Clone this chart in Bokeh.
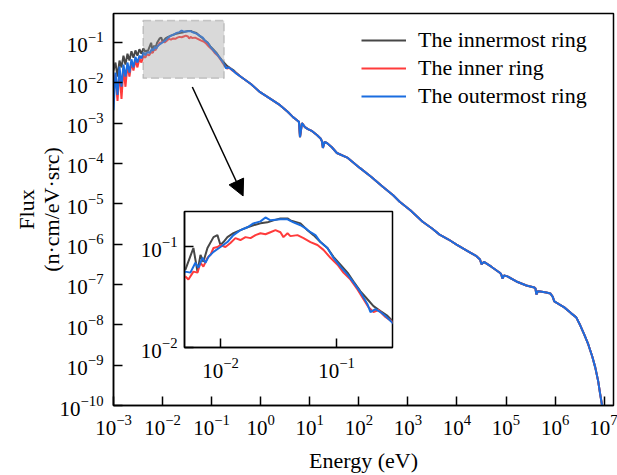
import numpy as np
from bokeh.plotting import figure
from bokeh.models import (ColumnDataSource, FixedTicker, BoxAnnotation, Arrow,
                          NormalHead, GridBox, Range1d)
from bokeh.embed import file_html
from bokeh.resources import INLINE

# ---- values: log10(Energy / eV) and log10(Flux) ----
# low-energy part (1e-3 .. 5e-3 eV), main plot
low_logE = [-3.0, -2.96, -2.918, -2.878, -2.837, -2.797, -2.756, -2.715, -2.675,
            -2.634, -2.593, -2.553, -2.512, -2.472, -2.431, -2.390, -2.350, -2.33]
black_low_logF = [-1.70, -1.50, -1.85, -1.45, -1.62, -1.33, -1.55, -1.28, -1.45,
                  -1.22, -1.38, -1.20, -1.33, -1.17, -1.28, -1.15, -1.24, -1.20]
red_low_logF = [-2.31, -1.80, -2.45, -1.70, -2.40, -1.64, -2.10, -1.56, -1.85,
                -1.50, -1.70, -1.44, -1.62, -1.40, -1.50, -1.33, -1.38, -1.32]
blue_low_logF = [-2.68, -1.75, -2.30, -1.60, -2.10, -1.55, -1.85, -1.50, -1.75,
                 -1.42, -1.62, -1.36, -1.50, -1.33, -1.40, -1.25, -1.32, -1.27]

# thermal peak (0.005 .. 0.3 eV)
black_mid_logE = [-2.302, -2.233, -2.198, -2.172, -2.147, -2.112, -2.060, -2.026, -2.000,
                  -1.974, -1.940, -1.888, -1.828, -1.767, -1.716, -1.655, -1.595, -1.543,
                  -1.483, -1.422, -1.397, -1.310, -1.250, -1.198, -1.138, -1.078, -1.026,
                  -0.966, -0.905, -0.853, -0.793, -0.733, -0.681, -0.621, -0.560, -0.517]
black_mid_logF = [-1.225, -1.010, -1.245, -1.078, -1.147, -1.010, -0.902, -0.882, -0.980,
                  -0.951, -0.902, -0.863, -0.833, -0.804, -0.784, -0.765, -0.755, -0.735,
                  -0.716, -0.716, -0.735, -0.765, -0.833, -0.882, -0.951, -1.010, -1.098,
                  -1.176, -1.255, -1.343, -1.441, -1.520, -1.588, -1.637, -1.686, -1.735]
red_mid_logE = [-2.302, -2.276, -2.233, -2.198, -2.172, -2.147, -2.112, -2.086, -2.060,
                -2.026, -2.000, -1.957, -1.914, -1.871, -1.828, -1.784, -1.741, -1.698,
                -1.655, -1.612, -1.569, -1.526, -1.483, -1.457, -1.422, -1.397, -1.336,
                -1.284, -1.224, -1.164, -1.112, -1.052, -0.991, -0.940, -0.879, -0.819,
                -0.767, -0.724, -0.681, -0.638, -0.578, -0.517]
red_mid_logF = [-1.294, -1.324, -1.245, -1.255, -1.157, -1.196, -1.108, -1.078, -1.010,
                -1.000, -0.980, -1.000, -0.961, -0.912, -0.931, -0.902, -0.912, -0.882,
                -0.863, -0.873, -0.853, -0.833, -0.853, -0.902, -0.863, -0.892, -0.882,
                -0.912, -0.951, -0.980, -1.029, -1.108, -1.176, -1.255, -1.324, -1.422,
                -1.520, -1.598, -1.647, -1.627, -1.696, -1.745]
blue_mid_logE = [-2.302, -2.259, -2.216, -2.190, -2.155, -2.129, -2.103, -2.060, -2.000,
                 -1.940, -1.888, -1.828, -1.767, -1.716, -1.655, -1.612, -1.569, -1.483,
                 -1.422, -1.371, -1.310, -1.267, -1.224, -1.181, -1.138, -1.078, -1.026,
                 -0.966, -0.905, -0.853, -0.793, -0.733, -0.707, -0.664, -0.621, -0.578,
                 -0.517]
blue_mid_logF = [-1.245, -1.255, -1.157, -1.206, -1.108, -1.157, -1.098, -1.049, -1.000,
                 -0.951, -0.882, -0.833, -0.804, -0.765, -0.745, -0.706, -0.735, -0.725,
                 -0.725, -0.755, -0.784, -0.814, -0.853, -0.882, -0.951, -1.010, -1.108,
                 -1.196, -1.275, -1.353, -1.451, -1.569, -1.647, -1.618, -1.647, -1.686,
                 -1.755]

# epithermal + fast part (0.4 eV .. 1e7 eV), common to the three rings
tail_logE = [-0.419, -0.20, -0.012, 0.20, 0.394, 0.55, 0.659, 0.74, 0.78, 0.801, 0.841,
             0.902, 0.963, 1.05, 1.146, 1.22, 1.248, 1.268, 1.30, 1.350, 1.45, 1.553,
             1.776, 2.020, 2.25, 2.488, 2.70, 2.833, 3.05, 3.301, 3.50, 3.646, 3.82,
             3.992, 4.20, 4.398, 4.47, 4.50, 4.55, 4.70, 4.866, 4.90, 4.927, 4.96,
             5.028, 5.211, 5.415, 5.577, 5.60, 5.618, 5.65, 5.699, 5.821, 5.902, 5.95,
             5.984, 6.085, 6.187, 6.329, 6.431, 6.512, 6.593, 6.675, 6.756, 6.817,
             6.878, 6.919, 6.959, 6.985]
tail_logF = [-1.84, -2.03, -2.235, -2.40, -2.556, -2.72, -2.852, -2.93, -2.97, -3.35, -3.00,
             -3.099, -3.148, -3.20, -3.296, -3.38, -3.45, -3.617, -3.47, -3.494, -3.60, -3.741,
             -3.864, -4.111, -4.33, -4.580, -4.79, -4.951, -5.16, -5.444, -5.62, -5.765, -5.88,
             -6.012, -6.16, -6.30, -6.38, -6.50, -6.44, -6.56, -6.704, -6.74, -6.85, -6.78,
             -6.80, -6.926, -7.025, -7.074, -7.10, -7.247, -7.17, -7.173, -7.198, -7.222, -7.30,
             -7.420, -7.494, -7.568, -7.716, -7.815, -8.012, -8.235, -8.481, -8.778, -9.049,
             -9.395, -9.716, -10.012, -10.3]

series_names = ["The innermost ring", "The inner ring", "The outermost ring"]
series_colors = ["#474747", "#ff3b3b", "#1a6de0"]

x_ticks = [1e-3, 1e-2, 1e-1, 1e0, 1e1, 1e2, 1e3, 1e4, 1e5, 1e6, 1e7]
y_ticks = [1e-10, 1e-9, 1e-8, 1e-7, 1e-6, 1e-5, 1e-4, 1e-3, 1e-2, 1e-1]
inset_x_ticks = [1e-2, 1e-1]
inset_y_ticks = [1e-2, 1e-1]

zoom_box = dict(left=0.004, right=0.18, bottom=0.013, top=0.35)
arrow_from = (0.0404, 0.00783)
arrow_to = (0.438, 1.56e-5)


def make_source(low_logF, mid_logE, mid_logF):
    logE = np.array(low_logE + mid_logE + tail_logE)
    logF = np.array(low_logF + mid_logF + tail_logF)
    return ColumnDataSource(data=dict(E=10.0 ** logE, F=10.0 ** logF))


sources = [
    make_source(black_low_logF, black_mid_logE, black_mid_logF),
    make_source(red_low_logF, red_mid_logE, red_mid_logF),
    make_source(blue_low_logF, blue_mid_logE, blue_mid_logF),
]

FONT = "Liberation Serif"

# borders of the main plot (the grid shares them with the inset)
B_LEFT, B_RIGHT, B_TOP, B_BOTTOM = 113, 4, 13, 68


def style_axes(fig, xt, yt, tick_in):
    for ax, ticks in ((fig.xaxis[0], xt), (fig.yaxis[0], yt)):
        ax.ticker = FixedTicker(ticks=ticks, minor_ticks=[])
        ax.major_tick_in = tick_in
        ax.major_tick_out = 0
        ax.minor_tick_in = 0
        ax.minor_tick_out = 0
        ax.major_tick_line_width = 1.5
        ax.axis_line_width = 1.5
        ax.major_tick_line_color = "black"
        ax.axis_line_color = "black"
        ax.major_label_text_font = FONT
        ax.major_label_text_font_size = "21px"
        ax.major_label_text_color = "black"
        ax.axis_label_text_font = FONT
        ax.axis_label_text_font_size = "22px"
        ax.axis_label_text_font_style = "normal"
        ax.axis_label_text_color = "black"
    fig.xgrid.visible = False
    fig.ygrid.visible = False
    fig.outline_line_color = "black"
    fig.outline_line_width = 1.5
    fig.outline_line_alpha = 1.0


# ---- main plot ----
p = figure(width=617, height=475, x_axis_type="log", y_axis_type="log",
           x_range=Range1d(1e-3, 1.55e7), y_range=Range1d(1e-10, 0.52),
           output_backend="svg", toolbar_location=None,
           min_border_left=B_LEFT, min_border_right=B_RIGHT, min_border_top=B_TOP,
           min_border_bottom=B_BOTTOM)
style_axes(p, x_ticks, y_ticks, 9)
p.xaxis.axis_label = "Energy (eV)"
p.yaxis.axis_label = "Flux\n(n·cm/eV·src)"
p.yaxis.axis_label_text_line_height = 1.0
p.xaxis.major_label_standoff = 9
p.yaxis.major_label_standoff = 10
p.xaxis.axis_label_standoff = 10
p.yaxis.axis_label_standoff = -7

for src, name, col in zip(sources, series_names, series_colors):
    p.line("E", "F", source=src, line_color=col, line_width=2, legend_label=name)

p.add_layout(BoxAnnotation(**zoom_box, fill_color="#999999", fill_alpha=0.37,
                           line_color="#666666", line_width=1.5, line_dash="8 4"))
p.add_layout(Arrow(end=NormalHead(size=16, fill_color="black", line_color="black"),
                   x_start=arrow_from[0], y_start=arrow_from[1],
                   x_end=arrow_to[0], y_end=arrow_to[1],
                   line_color="black", line_width=1.5))

lg = p.legend[0]
lg.location = (248, 295)
lg.padding = 0
lg.margin = 0
lg.spacing = 0
lg.glyph_width = 45
lg.glyph_height = 28
lg.label_height = 28
lg.label_standoff = 12
lg.label_text_font = FONT
lg.label_text_font_size = "22px"
lg.label_text_color = "black"
lg.background_fill_alpha = 0
lg.border_line_alpha = 0

# ---- inset: frame 208 x 138 px with its top-left corner at (184, 211) ----
INSET_W, INSET_H = 208, 138
INSET_X, INSET_Y = 184, 211
inset = figure(width=B_LEFT + INSET_W + B_RIGHT, height=B_TOP + INSET_H + B_BOTTOM,
               x_axis_type="log", y_axis_type="log",
               x_range=Range1d(0.0049, 0.304), y_range=Range1d(0.01, 0.2254),
               output_backend="svg", toolbar_location=None,
               min_border_left=B_LEFT, min_border_right=B_RIGHT, min_border_top=B_TOP,
               min_border_bottom=B_BOTTOM, align="start")
style_axes(inset, inset_x_ticks, inset_y_ticks, 9)
inset.xaxis.major_label_standoff = 10
inset.yaxis.major_label_standoff = 7
inset.border_fill_color = None
inset.background_fill_color = "white"
for src, col in zip(sources, series_colors):
    inset.line("E", "F", source=src, line_color=col, line_width=2)
inset.styles = {"transform": f"translate({INSET_X - B_LEFT}px, {INSET_Y - B_TOP}px)"}

layout = GridBox(children=[(p, 0, 0), (inset, 0, 0)], spacing=0)

open("out.html", "w").write(file_html(layout, INLINE))
